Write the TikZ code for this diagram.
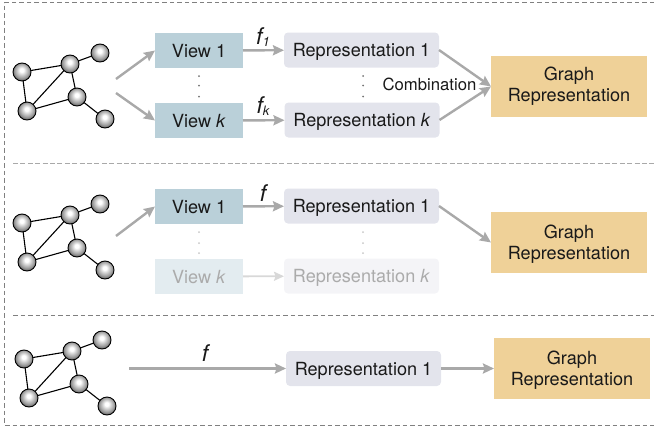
\documentclass[tikz,border=0pt]{standalone}
\usepackage{fontspec}
\setmainfont{TeX Gyre Heros}
\usetikzlibrary{arrows.meta}
\definecolor{viewc}{HTML}{BAD0D9}
\definecolor{repc}{HTML}{E3E4EC}
\definecolor{graphc}{HTML}{EFD198}
\definecolor{arrc}{HTML}{A9A9A9}
\definecolor{dashc}{HTML}{808080}
\pgfdeclareradialshading{ballsh}{\pgfpoint{-1bp}{6bp}}{%
  color(0bp)=(white);color(5bp)=(white);color(12bp)=(black!18);
  color(20bp)=(black!38);color(26bp)=(black!58);color(32bp)=(black!80);color(50bp)=(black!80)}
\tikzset{
  x=1pt,y=-1pt,
  every node/.style={font=\fontsize{18.1}{20}\selectfont,text=black!90,inner sep=0pt,outer sep=0pt},
  viewbox/.style={fill=viewc,minimum width=88pt,minimum height=35pt,text height=13pt,text depth=0pt},
  viewfade/.style={viewbox,fill=viewc!40,text=black!33},
  repbox/.style={fill=repc,rounded corners=4pt,minimum width=155pt,minimum height=35pt,text height=13pt,text depth=0pt},
  repfade/.style={repbox,fill=repc!40,text=black!33},
  graphbox/.style={fill=graphc,minimum width=156pt,minimum height=61pt,align=center},
  flow/.style={draw=arrc,line width=2.4pt,-{Stealth[length=11pt,width=10pt,inset=1.5pt]}},
  flowfade/.style={draw=arrc!45,line width=1.8pt,-{Stealth[length=10pt,width=9pt,inset=1.5pt]}},
  ball/.style={circle,draw=black,line width=.9pt,minimum size=18pt,shading=ballsh},
  edge/.style={draw=black,line width=1.1pt},
  frameline/.style={draw=dashc,line width=.9pt,dash pattern=on 4.5pt off 3pt},
  sepline/.style={draw=arrc,line width=1.6pt,dash pattern=on 5pt off 2.4pt},
  dotmark/.style={circle,fill=#1,minimum size=2pt},
  mathlab/.style={font=\fontsize{23}{24}\selectfont\itshape},
}
\newcommand{\netgraph}[3]{%
  \begin{scope}[shift={(#2,#3)}]
    \node[ball] (#1a) at (22,72) {};
    \node[ball] (#1b) at (70,64) {};
    \node[ball] (#1c) at (100,53) {};
    \node[ball] (#1d) at (77,97) {};
    \node[ball] (#1e) at (27,111) {};
    \node[ball] (#1f) at (105,119) {};
    \draw[edge] (#1a)--(#1b);
    \draw[edge] (#1b)--(#1c);
    \draw[edge] (#1b)--(#1d);
    \draw[edge] (#1b)--(#1e);
    \draw[edge] (#1a)--(#1e);
    \draw[edge] (#1e)--(#1d);
    \draw[edge] (#1d)--(#1f);
  \end{scope}}
\newcommand{\vdotsat}[6]{%
  \node[dotmark=#6] (#1p) at (#2,#3) {};
  \node[dotmark=#6] (#1q) at (#2,#4) {};
  \node[dotmark=#6] (#1r) at (#2,#5) {};}
\begin{document}
\begin{tikzpicture}
\useasboundingbox (0,0) rectangle (654,426);
% frame
\coordinate (ftl) at (4.5,2.5);
\coordinate (ftr) at (654,2.5);
\coordinate (fbl) at (4.5,425);
\coordinate (fbr) at (654,425);
\draw[frameline] (ftr)--(ftl)--(fbl)--(fbr);
\coordinate (s1l) at (13,163.5);\coordinate (s1r) at (654,163.5);
\coordinate (s2l) at (13,315.5);\coordinate (s2r) at (654,315.5);
\draw[sepline] (s1l)--(s1r);
\draw[frameline,line width=1.1pt] (s2l)--(s2r);
% row 1
\netgraph{A}{0}{0}
\node[viewbox] (v1) at (199,50.5) {View 1};
\node[viewbox] (vk) at (199,120.5) {View \textit{k}};
\node[repbox] (r1) at (361.5,50) {Representation 1};
\node[repbox] (rk) at (362,120) {Representation \textit{k}};
\node[graphbox] (g1) at (569,86.5) {Graph\\[1pt]Representation};
\coordinate (a1) at (116,79);\coordinate (a2) at (116,93);
\draw[flow] (a1)--(v1.west);
\draw[flow] (a2)--(vk.west);
\draw[flow] (v1)--(r1);
\draw[flow] (vk)--(rk);
\draw[flow] (r1.east)--(g1.west);
\draw[flow] (rk.east)--(g1.west);
\node[mathlab] (f1) at (263,37) {f\raisebox{-2pt}{\fontsize{13}{14}\selectfont 1}};
\node[mathlab] (fk) at (263,106) {f\raisebox{-2pt}{\fontsize{13}{14}\selectfont k}};
\node[font=\fontsize{16.7}{18}\selectfont] (cmb) at (429.5,84.5) {Combination};
\vdotsat{d1}{199}{76}{85.5}{96.5}{black!55}
\vdotsat{d2}{363}{76}{85.5}{96.5}{black!55}
% row 2
\netgraph{B}{0}{151}
\node[viewbox] (v2) at (199,206.5) {View 1};
\node[viewfade] (v3) at (199,276.5) {View \textit{k}};
\node[repbox] (r2) at (361.5,206) {Representation 1};
\node[repfade] (r3) at (361.5,276) {Representation \textit{k}};
\node[graphbox] (g2) at (569,242.5) {\rule{0pt}{17pt}Graph\\[1pt]Representation};
\coordinate (a3) at (116,236);
\draw[flow] (a3)--(v2.west);
\draw[flow] (v2)--(r2);
\draw[flowfade] (v3)--(r3);
\draw[flow] (r2.east)--(g2.west);
\node[mathlab] (f2) at (263,193) {f};
\vdotsat{d3}{199}{232}{243}{253}{black!22}
\vdotsat{d4}{363}{232}{243}{253}{black!22}
% row 3
\netgraph{C}{2}{287}
\node[repbox] (r4) at (363.5,368.5) {Representation 1};
\node[graphbox] (g3) at (572,368.5) {\rule{0pt}{17pt}Graph\\[1pt]Representation};
\coordinate (a4) at (129,368.5);
\draw[flow] (a4)--(r4.west);
\draw[flow] (r4)--(g3);
\node[mathlab] (f3) at (205,353) {f};
\end{tikzpicture}
\end{document}
